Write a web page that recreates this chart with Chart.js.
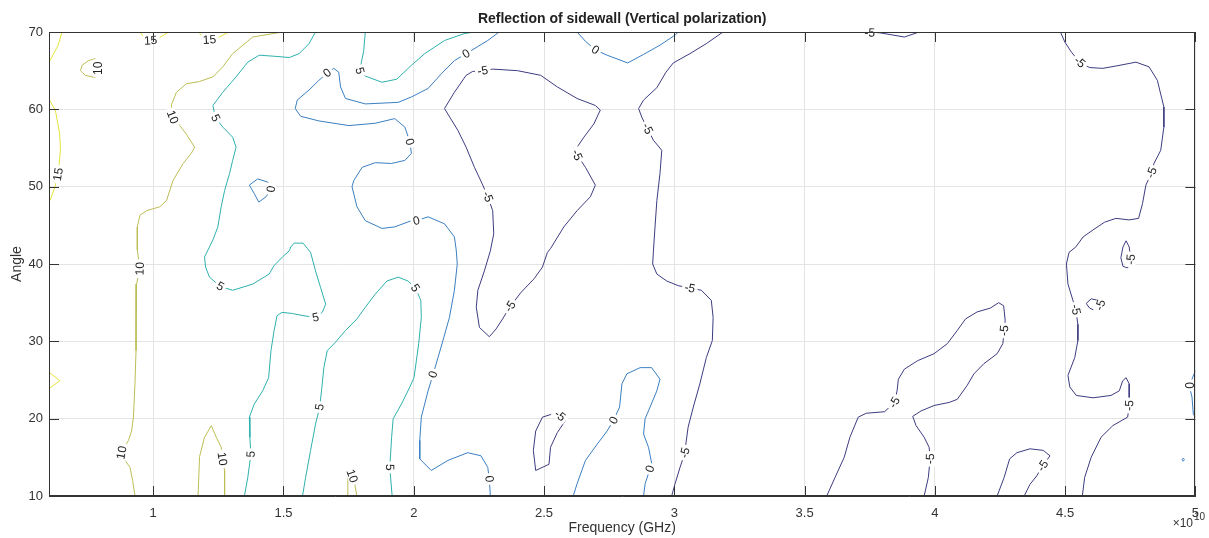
<!DOCTYPE html>
<html>
<head>
<meta charset="utf-8">
<script src="https://cdn.jsdelivr.net/npm/chart.js@4/dist/chart.umd.min.js"></script>
<style>
  html, body { margin: 0; padding: 0; background: #fff; }
  #wrap { width: 1209px; height: 538px; }
</style>
</head>
<body>
<div id="wrap"><canvas id="contourChart" width="1209" height="538"></canvas></div>
<script>
// Axis ticks (frequency in units of 1e10, angle in degrees)
const xTicks = [1, 1.5, 2, 2.5, 3, 3.5, 4, 4.5, 5];
const yTicks = [10, 20, 30, 40, 50, 60, 70];
const levels = [-5, 0, 5, 10, 15];

// Contour lines: [frequency, angle]
// level 15
const c15a = [[0.65,70],[0.635,68.3],[0.604,66.3]];
const c15b = [[0.604,61.1],[0.625,59.8],[0.641,56.8],[0.644,54.7],[0.635,51.6],[0.622,49.9],[0.604,48.2]];
const c15c = [[0.604,25.9],[0.642,24.9],[0.604,24.0]];
const c15d = [[0.95,70],[0.968,69.1],[0.99,68.9],[1.02,69.2],[1.06,70]];
const c15e = [[1.175,70],[1.195,69.1],[1.216,69.0],[1.245,69.2],[1.29,70]];
// level 10
const c10a = [[0.777,66.55],[0.752,66.3],[0.727,65.7],[0.721,65.0],[0.739,64.4],[0.777,64.1],[0.79,65.3],[0.777,66.55]];
const c10b = [[1.496,70],[1.382,69.35],[1.305,67.2],[1.267,65.5],[1.229,64.2],[1.178,63.6],[1.127,63.3],[1.089,62.2],[1.070,60.6],[1.074,59.0],[1.102,57.9],[1.127,56.8],[1.159,55.1],[1.146,54.3],[1.115,53.0],[1.076,50.8],[1.051,48.2],[1.025,47.4],[0.975,46.9],[0.949,46.3],[0.939,44.8],[0.939,41.8],[0.949,39.4],[0.936,37.4],[0.934,33.1],[0.934,28.8],[0.930,24.5],[0.924,20.2],[0.917,18.4],[0.905,17.2],[0.879,15.6],[0.892,14.6],[0.911,13.7],[0.921,12.0],[0.930,10]];
const c10c = [[1.172,10],[1.178,15.1],[1.197,17.6],[1.223,19.1],[1.242,17.6],[1.261,16.3],[1.265,14.8],[1.274,13.3],[1.274,10]];
const c10d = [[1.744,10],[1.747,12.9],[1.755,13.4],[1.763,12.6],[1.772,11.8],[1.782,10]];
// level 5
const c5a = [[1.623,70],[1.598,68.5],[1.560,67.2],[1.522,66.7],[1.471,66.85],[1.407,67.0],[1.363,66.1],[1.318,64.2],[1.267,62.2],[1.229,60.5],[1.239,58.9],[1.267,57.7],[1.305,56.4],[1.318,55.1],[1.305,53.4],[1.293,51.7],[1.274,49.5],[1.261,47.4],[1.248,44.8],[1.229,43.1],[1.210,41.8],[1.197,40.9],[1.201,39.6],[1.216,38.3],[1.257,37.1],[1.305,36.6],[1.382,37.4],[1.445,38.7],[1.464,39.8],[1.496,40.9],[1.522,41.7],[1.528,42.2],[1.541,42.7],[1.575,42.7],[1.592,42.0],[1.604,41.5],[1.623,39.1],[1.642,37.0],[1.662,34.8],[1.649,33.75],[1.623,33.1],[1.579,33.3],[1.534,33.6],[1.494,33.75],[1.475,33.3],[1.464,31.4],[1.452,28.8],[1.443,25.3],[1.420,23.6],[1.388,21.9],[1.369,20.2],[1.371,17.6],[1.375,15.4],[1.363,12.4],[1.350,10]];
const c5b = [[1.573,10],[1.585,12.4],[1.604,15.9],[1.623,19.3],[1.639,21.5],[1.646,23.6],[1.655,26.6],[1.668,28.8],[1.700,29.9],[1.738,31.4],[1.782,32.9],[1.814,34.4],[1.852,36.1],[1.897,37.8],[1.940,38.3],[1.978,37.8],[2.006,36.9],[2.027,35.3],[2.029,33.1],[2.019,29.7],[2.001,25.3],[1.985,24.1],[1.953,21.9],[1.921,20.0],[1.915,17.6],[1.908,13.7],[1.917,10]];
const c5c = [[1.814,70],[1.808,67.6],[1.799,66.1],[1.793,65.0],[1.814,64.3],[1.878,63.5],[1.935,63.9],[1.991,65.7],[2.042,67.2],[2.118,68.9],[2.195,69.8],[2.233,70]];
// level 0
const c0a = [[2.328,70],[2.284,68.9],[2.201,67.2],[2.156,66.3],[2.106,64.6],[2.055,62.7],[1.991,61.6],[1.940,60.9],[1.814,60.7],[1.738,61.4],[1.719,62.9],[1.712,64.8],[1.693,65.3],[1.668,64.7],[1.636,63.75],[1.598,62.5],[1.553,61.2],[1.545,60.1],[1.566,59.1],[1.636,58.5],[1.751,57.9],[1.852,58.2],[1.927,58.8],[1.966,57.7],[1.985,55.8],[1.991,54.3],[1.966,53.4],[1.915,53.0],[1.852,53.1],[1.802,52.5],[1.770,50.8],[1.763,50.0],[1.782,47.4],[1.814,45.6],[1.878,44.6],[1.927,44.8],[1.991,45.6],[2.010,45.6],[2.055,46.1],[2.118,45.2],[2.156,43.5],[2.163,41.8],[2.167,40],[2.156,36.6],[2.137,33.1],[2.112,30.1],[2.074,25.7],[2.055,23.6],[2.029,20.2],[2.023,17.2],[2.023,14.8],[2.067,13.3],[2.131,14.6],[2.207,15.6],[2.258,15.2],[2.284,13.7],[2.290,12.2],[2.294,10]];
const c0b = [[1.439,50.6],[1.401,51.0],[1.369,50.2],[1.388,49.1],[1.405,48.0],[1.433,48.7],[1.452,49.7],[1.439,50.6]];
const c0c = [[2.627,70],[2.659,68.8],[2.697,67.7],[2.742,67.0],[2.821,66.0],[2.882,67.1],[2.945,68.3],[3.003,69.6],[3.015,70]];
const c0d = [[2.612,10],[2.627,11.6],[2.659,14.6],[2.704,16.7],[2.742,18.4],[2.767,19.8],[2.790,21.5],[2.799,24.5],[2.818,25.8],[2.869,26.6],[2.913,26.6],[2.945,25.1],[2.933,23.6],[2.907,21.5],[2.888,20.0],[2.882,18.0],[2.901,16.3],[2.914,14.1],[2.907,13.5],[2.888,11.6],[2.882,10]];
const c0e = [[5.0,26.2],[4.987,25.1],[4.976,24.3],[4.987,22.8],[4.992,20.6],[5.0,20.2]];
const c0f = [[4.953,14.9],[4.958,14.7],[4.953,14.5],[4.949,14.7],[4.953,14.9]];
// level -5
const cm5a = [[2.265,65.0],[2.303,65.2],[2.398,65.0],[2.487,64.4],[2.551,62.9],[2.627,61.4],[2.697,60.5],[2.716,59.9],[2.691,58.1],[2.653,56.4],[2.627,55.1],[2.627,54.1],[2.659,52.5],[2.697,50.2],[2.678,48.7],[2.627,46.9],[2.576,44.8],[2.525,42.0],[2.513,41.5],[2.494,39.6],[2.462,38.1],[2.411,36.3],[2.370,34.5],[2.341,32.9],[2.316,31.6],[2.290,30.6],[2.252,31.8],[2.240,34.4],[2.246,36.6],[2.271,39.1],[2.294,41.7],[2.307,43.9],[2.303,46.9],[2.284,48.7],[2.265,50.2],[2.233,52.5],[2.201,55.1],[2.169,57.3],[2.118,60.1],[2.156,62.2],[2.201,64.4],[2.226,64.9],[2.265,65.0]];
const cm5b = [[3.187,70],[3.123,68.5],[3.060,67.2],[2.996,66.0],[2.968,64.8],[2.933,62.8],[2.882,61.2],[2.863,60.1],[2.875,59.0],[2.897,57.5],[2.920,56.0],[2.952,54.7],[2.945,51.7],[2.933,48.2],[2.926,44.8],[2.920,41.8],[2.917,40],[2.933,38.7],[2.971,37.8],[3.015,37.2],[3.060,36.9],[3.104,36.6],[3.142,35.3],[3.149,33.1],[3.146,30.1],[3.123,27.9],[3.098,24.5],[3.073,21.5],[3.053,18.9],[3.045,16.9],[3.041,15.6],[3.022,13.7],[3.003,11.6],[2.990,10]];
const cm5c = [[2.561,20.4],[2.583,19.8],[2.551,18.2],[2.525,16.3],[2.519,14.1],[2.468,13.3],[2.459,15.9],[2.468,18.4],[2.494,20.2],[2.532,20.6],[2.561,20.4]];
const cm5d = [[3.66,70],[3.70,70],[3.75,69.9],[3.788,69.9],[3.832,69.65],[3.883,69.35],[3.94,70]];
const cm5e = [[4.482,70],[4.499,68.7],[4.524,67.4],[4.556,66.1],[4.594,65.4],[4.645,65.3],[4.695,65.6],[4.772,66.1],[4.822,65.5],[4.854,63.75],[4.879,60.3],[4.879,57.7],[4.867,54.7],[4.841,53.0],[4.832,51.8],[4.810,50.2],[4.797,47.8],[4.782,45.9],[4.746,45.7],[4.695,45.9],[4.651,45.4],[4.607,44.4],[4.569,43.5],[4.541,42.2],[4.515,41.5],[4.505,40],[4.511,37.4],[4.530,35.3],[4.541,34.1],[4.549,32.2],[4.549,30.1],[4.537,27.9],[4.511,25.6],[4.518,24.1],[4.543,23.0],[4.607,22.7],[4.676,23.0],[4.708,23.6],[4.721,24.9],[4.734,25.3],[4.746,24.5],[4.746,23.2],[4.746,21.7],[4.740,20.2],[4.683,19.1],[4.638,17.6],[4.600,15.0],[4.575,12.4],[4.566,10]];
const cm5f = [[4.746,42.2],[4.734,43.0],[4.722,42.2],[4.714,40.8],[4.722,39.7],[4.740,39.5],[4.752,40.6],[4.746,42.2]];
const cm5g = [[4.626,35.3],[4.600,35.5],[4.581,34.9],[4.594,34.3],[4.613,34.0],[4.635,34.7],[4.626,35.3]];
const cm5h = [[3.585,10],[3.617,12.4],[3.652,15.0],[3.674,17.6],[3.706,20.2],[3.737,20.7],[3.807,20.9],[3.845,22.1],[3.855,23.6],[3.860,25.1],[3.883,26.4],[3.934,27.5],[3.997,28.4],[4.048,29.7],[4.086,31.4],[4.118,32.9],[4.162,33.8],[4.213,34.3],[4.245,35.0],[4.264,34.6],[4.270,32.7],[4.266,31.4],[4.261,29.7],[4.239,28.4],[4.188,27.1],[4.150,25.8],[4.124,24.3],[4.086,22.5],[4.055,22.1],[3.997,21.7],[3.947,21.0],[3.915,20.3],[3.928,19.1],[3.959,17.6],[3.978,16.3],[3.982,14.8],[3.975,12.4],[3.959,10]];
const cm5i = [[4.239,10],[4.266,12.4],[4.287,14.8],[4.315,15.6],[4.365,16.1],[4.416,15.9],[4.442,15.2],[4.414,13.9],[4.391,12.6],[4.365,11.5],[4.343,10]];

// which line belongs to which level, and where its inline labels sit (point index)
const contours = [
  { level: 15, pts: c15a, lab: [] },
  { level: 15, pts: c15b, lab: [4] },
  { level: 15, pts: c15c, lab: [] },
  { level: 15, pts: c15d, lab: [2] },
  { level: 15, pts: c15e, lab: [2] },
  { level: 10, pts: c10a, lab: [6] },
  { level: 10, pts: c10b, lab: [9, 22, 30] },
  { level: 10, pts: c10c, lab: [6] },
  { level: 10, pts: c10d, lab: [3] },
  { level: 5, pts: c5a, lab: [10, 24, 40, 52] },
  { level: 5, pts: c5b, lab: [4, 16, 25] },
  { level: 5, pts: c5c, lab: [3] },
  { level: 0, pts: c0a, lab: [2, 13, 24, 37, 46, 56] },
  { level: 0, pts: c0b, lab: [6] },
  { level: 0, pts: c0c, lab: [2] },
  { level: 0, pts: c0d, lab: [5, 18] },
  { level: 0, pts: c0e, lab: [2] },
  { level: 0, pts: c0f, lab: [] },
  { level: -5, pts: cm5a, lab: [0, 11, 22, 33] },
  { level: -5, pts: cm5b, lab: [9, 20, 30] },
  { level: -5, pts: cm5c, lab: [0] },
  { level: -5, pts: cm5d, lab: [2] },
  { level: -5, pts: cm5e, lab: [3, 14, 28, 42] },
  { level: -5, pts: cm5f, lab: [6] },
  { level: -5, pts: cm5g, lab: [5] },
  { level: -5, pts: cm5h, lab: [7, 21, 35] },
  { level: -5, pts: cm5i, lab: [7] }
];

const levelColors = { '-5': '#3d3c80', '0': '#3b7fc2', '5': '#2eb1ad', '10': '#bdbd55', '15': '#e3e33c' };
const FONT = '"Liberation Sans", Arial, Helvetica, sans-serif';
const AXIS = '#333333';

const decor = {
  id: 'decor',
  afterDatasetsDraw(chart) {
    // inline contour labels, oriented along the line
    const ctx = chart.ctx, xs = chart.scales.x, ys = chart.scales.y;
    ctx.save();
    ctx.font = '12px ' + FONT;
    ctx.textAlign = 'center';
    ctx.textBaseline = 'middle';
    contours.forEach(c => {
      c.lab.forEach(i => {
        const p = c.pts[i];
        const a = c.pts[Math.max(i - 1, 0)];
        const b = c.pts[Math.min(i + 1, c.pts.length - 1)];
        const px = xs.getPixelForValue(p[0]), py = ys.getPixelForValue(p[1]);
        let ang = Math.atan2(ys.getPixelForValue(b[1]) - ys.getPixelForValue(a[1]),
                             xs.getPixelForValue(b[0]) - xs.getPixelForValue(a[0]));
        if (ang > Math.PI / 2) ang -= Math.PI;
        if (ang < -Math.PI / 2) ang += Math.PI;
        const txt = String(c.level);
        const w = ctx.measureText(txt).width + 5;
        ctx.save();
        ctx.translate(px, py);
        ctx.rotate(ang);
        ctx.fillStyle = '#fff';
        ctx.fillRect(-w / 2, -5, w, 10);
        ctx.fillStyle = '#222';
        ctx.fillText(txt, 0, 0.5);
        ctx.restore();
      });
    });
    ctx.restore();
  },
  afterDraw(chart) {
    const ctx = chart.ctx, a = chart.chartArea, xs = chart.scales.x, ys = chart.scales.y;
    ctx.save();
    // box
    ctx.strokeStyle = AXIS;
    ctx.lineWidth = 1;
    ctx.strokeRect(Math.round(a.left) + 0.5, Math.round(a.top) + 0.5,
                   Math.round(a.right - a.left) - 1, Math.round(a.bottom - a.top) - 1);
    // inward ticks on all sides
    ctx.beginPath();
    xTicks.forEach(v => {
      const x = Math.round(xs.getPixelForValue(v)) + 0.5;
      ctx.moveTo(x, a.bottom); ctx.lineTo(x, a.bottom - 10);
      ctx.moveTo(x, a.top); ctx.lineTo(x, a.top + 10);
    });
    yTicks.forEach(v => {
      const y = Math.round(ys.getPixelForValue(v)) + 0.5;
      ctx.moveTo(a.left, y); ctx.lineTo(a.left + 10, y);
      ctx.moveTo(a.right, y); ctx.lineTo(a.right - 10, y);
    });
    ctx.stroke();

    ctx.fillStyle = '#222';
    ctx.textAlign = 'center';
    ctx.textBaseline = 'middle';
    const cx = (a.left + a.right) / 2;
    ctx.font = 'bold 14px ' + FONT;
    ctx.fillText('Reflection of sidewall (Vertical polarization)', cx, 19);
    ctx.fillStyle = '#333';
    ctx.font = '14px ' + FONT;
    ctx.fillText('Frequency (GHz)', cx, 528);
    ctx.save();
    ctx.translate(17, (a.top + a.bottom) / 2);
    ctx.rotate(-Math.PI / 2);
    ctx.fillText('Angle', 0, 0);
    ctx.restore();
    // exponent
    ctx.textAlign = 'right';
    ctx.font = '12px ' + FONT;
    ctx.fillText('\u00d710', 1193, 524);
    ctx.textAlign = 'left';
    ctx.font = '10px ' + FONT;
    ctx.fillText('10', 1194, 517);
    ctx.restore();
  }
};

const datasets = contours.map(c => ({
  data: c.pts.map(p => ({ x: p[0], y: p[1] })),
  showLine: true,
  borderColor: levelColors[String(c.level)],
  borderWidth: 1,
  pointRadius: 0,
  tension: 0,
  fill: false
}));

new Chart(document.getElementById('contourChart').getContext('2d'), {
  type: 'scatter',
  data: { datasets: datasets },
  options: {
    responsive: false,
    animation: false,
    devicePixelRatio: 1,
    layout: { padding: { left: 0, top: 32, right: 6, bottom: 0 } },
    plugins: { legend: { display: false }, tooltip: { enabled: false }, title: { display: false } },
    scales: {
      x: {
        type: 'linear',
        min: 0.6,
        max: 5,
        afterBuildTicks: s => { s.ticks = xTicks.map(v => ({ value: v })); },
        afterFit: s => { s.height = 42; },
        ticks: { color: '#333', font: { family: FONT, size: 13 }, padding: 10, maxRotation: 0, autoSkip: false,
                 callback: v => String(v) },
        grid: { color: '#e4e4e4', drawTicks: false },
        border: { color: AXIS }
      },
      y: {
        type: 'linear',
        min: 10,
        max: 70,
        afterBuildTicks: s => { s.ticks = yTicks.map(v => ({ value: v })); },
        afterFit: s => { s.width = 49; },
        ticks: { color: '#333', font: { family: FONT, size: 13 }, padding: 6, autoSkip: false },
        grid: { color: '#e4e4e4', drawTicks: false },
        border: { color: AXIS }
      }
    }
  },
  plugins: [decor]
});
</script>
</body>
</html>
